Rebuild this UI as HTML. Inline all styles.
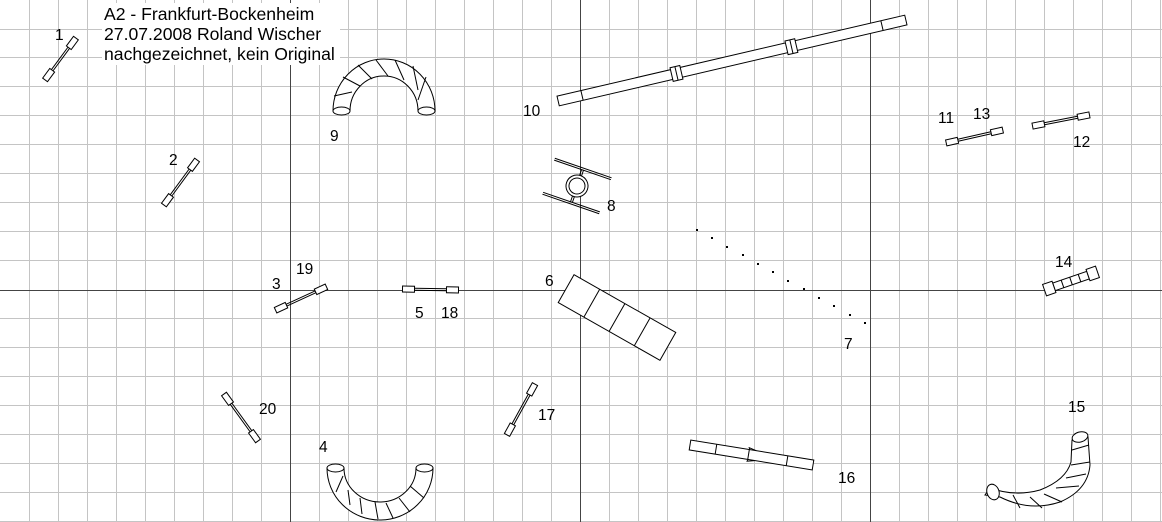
<!DOCTYPE html>
<html><head><meta charset="utf-8"><style>
html,body{margin:0;padding:0;background:#fff}
svg{display:block}
text{font-family:"Liberation Sans",sans-serif;fill:#000}
</style></head><body>
<svg width="1162" height="522" viewBox="0 0 1162 522" xmlns="http://www.w3.org/2000/svg">
<g stroke="#c4c4c4" stroke-width="1">
<path d="M29.5 0V522M58.5 0V522M87.5 0V522M116.5 0V522M145.5 0V522M174.5 0V522M203.5 0V522M232.5 0V522M261.5 0V522M319.5 0V522M348.5 0V522M377.5 0V522M406.5 0V522M435.5 0V522M464.5 0V522M493.5 0V522M522.5 0V522M551.5 0V522M609.5 0V522M638.5 0V522M667.5 0V522M696.5 0V522M725.5 0V522M754.5 0V522M783.5 0V522M812.5 0V522M841.5 0V522M899.5 0V522M928.5 0V522M957.5 0V522M986.5 0V522M1015.5 0V522M1044.5 0V522M1073.5 0V522M1102.5 0V522M1131.5 0V522M1160.5 0V522"/>
<path d="M0 29.5H1162M0 57.5H1162M0 86.5H1162M0 115.5H1162M0 144.5H1162M0 173.5H1162M0 202.5H1162M0 231.5H1162M0 260.5H1162M0 318.5H1162M0 347.5H1162M0 376.5H1162M0 405.5H1162M0 434.5H1162M0 463.5H1162M0 492.5H1162M0 521.5H1162"/>
</g>
<g stroke="#444" stroke-width="1">
<path d="M290.5 0V522M580.5 0V522M870.5 0V522M0 290.5H1162"/>
</g>
<rect x="102" y="3" width="238" height="62" fill="#fff"/>
<g font-size="17.6">
<text x="104" y="20">A2 - Frankfurt-Bockenheim</text>
<text x="104" y="40">27.07.2008 Roland Wischer</text>
<text x="104" y="60">nachgezeichnet, kein Original</text>
</g>
<g fill="#fff" stroke="#000" stroke-width="1">
<g transform="translate(60.5,59) rotate(-53.6)"><path d="M-14 -1H14M-14 1H14" /><rect x="-26" y="-3" width="12" height="6"/><rect x="14" y="-3" width="12" height="6"/></g>
<g transform="translate(180.5,182.5) rotate(-53.7)"><path d="M-16 -1H16M-16 1H16"/><rect x="-28" y="-3" width="12" height="6"/><rect x="16" y="-3" width="12" height="6"/></g>
<g transform="translate(301,298.5) rotate(-24.7)"><path d="M-16 -1H16M-16 1H16"/><rect x="-28" y="-3" width="12" height="6"/><rect x="16" y="-3" width="12" height="6"/></g>
<g transform="translate(430.5,289.5) rotate(1)"><path d="M-16 -1H16M-16 1H16"/><rect x="-28" y="-3" width="12" height="6"/><rect x="16" y="-3" width="12" height="6"/></g>
<g transform="translate(241,417.5) rotate(54.1)"><path d="M-17 -1H17M-17 1H17"/><rect x="-29" y="-3" width="12" height="6"/><rect x="17" y="-3" width="12" height="6"/></g>
<g transform="translate(521,409.5) rotate(-61.2)"><path d="M-17 -1H17M-17 1H17"/><rect x="-29" y="-3" width="12" height="6"/><rect x="17" y="-3" width="12" height="6"/></g>
<g transform="translate(974.5,136.5) rotate(-12.8)"><path d="M-17 -1H17M-17 1H17"/><rect x="-29" y="-3" width="12" height="6"/><rect x="17" y="-3" width="12" height="6"/></g>
<g transform="translate(1061,120.5) rotate(-11.1)"><path d="M-17 -1H17M-17 1H17"/><rect x="-29" y="-3" width="12" height="6"/><rect x="17" y="-3" width="12" height="6"/></g>
<g transform="translate(1071,281) rotate(-19.1)"><rect x="-18" y="-4" width="36" height="8"/><path d="M-9 -4V4M0 -4V4M9 -4V4"/><rect x="-28" y="-6" width="10" height="12"/><rect x="18" y="-6" width="10" height="12"/></g>
<g transform="translate(732,60.5) rotate(-13.1)"><rect x="-178.5" y="-5" width="357" height="10"/><path d="M-154 -5V5M154 -5V5"/><path d="M-62 -7H-52V7H-62Z M-57 -7V7" fill="#fff"/><path d="M56 -7H66V7H56Z M61 -7V7" fill="#fff"/></g>
<g transform="translate(751.5,455) rotate(9.2)"><rect x="-62.3" y="-5" width="124.6" height="10"/><path d="M-36 -5V5M36 -5V5M-4 -7L4 -5M-4 7L4 5M-3 -7V7"/></g>
<g transform="translate(617,317.5) rotate(29.6)"><rect x="-58.5" y="-16" width="117" height="32"/><path d="M-29 -16V16M0 -16V16M29 -16V16"/></g>
<g transform="translate(577,186) rotate(19)"><path d="M-30 -19H30M-30 -17H30M-30 17H30M-30 19H30"/><path d="M-1 -17V-10M1 -17V-10M-1 10V17M1 10V17"/><circle r="11"/><circle r="8"/></g>
</g>
<g fill="#000">
<rect x="696" y="229" width="2" height="2"/><rect x="711" y="237" width="2" height="2"/><rect x="726" y="246" width="2" height="2"/><rect x="742" y="254" width="2" height="2"/><rect x="757" y="263" width="2" height="2"/><rect x="772" y="271" width="2" height="2"/><rect x="787" y="280" width="2" height="2"/><rect x="803" y="288" width="2" height="2"/><rect x="818" y="297" width="2" height="2"/><rect x="833" y="305" width="2" height="2"/><rect x="849" y="314" width="2" height="2"/><rect x="864" y="322" width="2" height="2"/>
</g>
<g fill="#fff" stroke="#000" stroke-width="1">
<path d="M333 111 A51 52 0 0 1 435 111 L418 111 A34 35 0 0 0 350 111 Z"/>
<path d="M334 96 L352 92 M343 77 L360 86 M358 65 L372 79 M376 60 L388 76 M395 60 L404 80 M413 66 L418 90 M426 77 L418 100" fill="none"/>
<ellipse cx="341.5" cy="111" rx="8.5" ry="4"/><ellipse cx="426.5" cy="111" rx="8.5" ry="4"/>
<path d="M327 468 A53 52 0 0 0 433 468 L416 468 A36 34 0 0 1 344 468 Z"/>
<path d="M336 492 L343 476 M350 505 L348 490 M362 514 L360 498 M378 519 L375 502 M393 518 L386 503 M410 512 L399 498 M424 498 L410 486" fill="none"/>
<ellipse cx="335.5" cy="468" rx="8.5" ry="4"/><ellipse cx="424.5" cy="468" rx="8.5" ry="4"/>
<path d="M1088 437 L1090 465 Q1088 490 1060 502 Q1030 512 1000 497 L985 495 L990 488 Q1015 497 1040 490 Q1066 480 1071 462 L1072 440 Z"/>
<path d="M1072 450 L1089 445 M1071 465 L1090 462 M1066 478 L1086 474 M1056 488 L1079 486 M1044 494 L1062 502 M1030 497 L1042 508 M1013 495 L1020 508" fill="none"/>
<ellipse cx="1080" cy="437" rx="8" ry="5" transform="rotate(-15 1080 437)"/>
<ellipse cx="993" cy="492" rx="6" ry="8" transform="rotate(-20 993 492)"/>
</g>
<g font-size="15.5">
<text x="55" y="40">1</text>
<text x="169" y="165">2</text>
<text x="330" y="141">9</text>
<text x="523" y="116">10</text>
<text x="607" y="211">8</text>
<text x="272" y="289">3</text>
<text x="296" y="274">19</text>
<text x="415" y="318">5</text>
<text x="441" y="318">18</text>
<text x="545" y="286">6</text>
<text x="844" y="349">7</text>
<text x="259" y="414">20</text>
<text x="538" y="420">17</text>
<text x="319" y="452">4</text>
<text x="838" y="483">16</text>
<text x="1068" y="412">15</text>
<text x="938" y="123">11</text>
<text x="973" y="119">13</text>
<text x="1073" y="147">12</text>
<text x="1055" y="267">14</text>
</g>
</svg>
</body></html>
